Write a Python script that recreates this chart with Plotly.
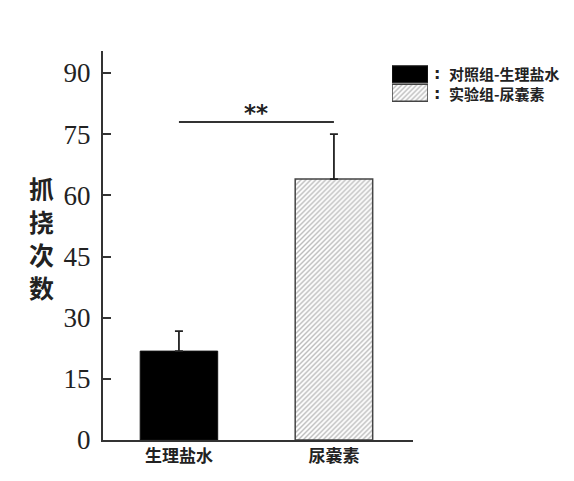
import plotly.graph_objects as go

# values
groups = ["生理盐水", "尿囊素"]
means = [21.8, 64.0]
err_up = [4.9, 11.0]
sig_y = [78, 78]
sig_label = "**"
y_ticks = [0, 15, 30, 45, 60, 75, 90]
legend_labels = ["对照组-生理盐水", "实验组-尿囊素"]
y_title = "抓挠次数"

CJK = "Noto Sans CJK SC"
INK = "#222"
HATCH = dict(shape="/", size=3.5, solidity=0.4, fgcolor="#777", bgcolor="white")

fig = go.Figure()

# black bar (saline control)
fig.add_trace(go.Bar(
    x=groups[:1], y=means[:1], width=0.5, xaxis="x", yaxis="y",
    marker=dict(color="#000", line=dict(color="#111", width=1)),
    error_y=dict(type="data", array=err_up[:1], arrayminus=[0], symmetric=False,
                 color=INK, thickness=1.8, width=4),
    showlegend=False))
# hatched bar (allantoin)
fig.add_trace(go.Bar(
    x=groups[1:], y=means[1:], width=0.5, xaxis="x", yaxis="y",
    marker=dict(color="white", line=dict(color="#444", width=1.5), pattern=HATCH),
    error_y=dict(type="data", array=err_up[1:], arrayminus=[0], symmetric=False,
                 color=INK, thickness=1.8, width=4),
    showlegend=False))

# significance bracket
fig.add_trace(go.Scatter(x=groups, y=sig_y, mode="lines", xaxis="x", yaxis="y",
                         line=dict(color="#333", width=2), showlegend=False, hoverinfo="skip"))
fig.add_annotation(x=0.5, y=sig_y[0], xref="x", yref="y", text=sig_label, showarrow=False,
                   yanchor="bottom", yshift=-6,
                   font=dict(family="DejaVu Sans", size=23, color=INK, weight="bold"))

# legend swatches drawn as bars in a tiny inset axis
fig.add_trace(go.Bar(
    x=[1], y=[0], orientation="h", width=0.92, xaxis="x2", yaxis="y2",
    marker=dict(color="#000", line=dict(color="#222", width=1)), showlegend=False, hoverinfo="skip"))
fig.add_trace(go.Bar(
    x=[1], y=[1], orientation="h", width=0.92, xaxis="x2", yaxis="y2",
    marker=dict(color="white", line=dict(color="#444", width=1.5), pattern=HATCH),
    showlegend=False, hoverinfo="skip"))

for lab, yy in zip(legend_labels, [0.9434, 0.892]):
    fig.add_annotation(x=0.7214, y=yy, xref="paper", yref="paper", text=":", showarrow=False,
                       xanchor="center", yanchor="middle",
                       font=dict(family="DejaVu Sans", size=16, color=INK, weight="bold"))
    fig.add_annotation(x=0.743, y=yy, xref="paper", yref="paper", text=lab, showarrow=False,
                       xanchor="left", yanchor="middle",
                       font=dict(family=CJK, size=15, color=INK, weight="bold"))

# vertical y-axis title, one character per annotation
for i, ch in enumerate(y_title):
    fig.add_annotation(x=-0.1318, y=0.6478 - i * 0.0848, xref="paper", yref="paper", text=ch,
                       showarrow=False, xanchor="center", yanchor="middle",
                       font=dict(family=CJK, size=25, color=INK, weight="bold"))

fig.update_layout(
    width=566, height=473,
    margin=dict(l=95, r=8, t=43, b=41),
    plot_bgcolor="white", paper_bgcolor="white",
    barmode="overlay",
    xaxis=dict(domain=[0, 0.6695], anchor="y", type="category", range=[-0.49, 1.51],
               showline=True, linecolor="#333", linewidth=2, ticks="", showgrid=False,
               tickfont=dict(family=CJK, size=17, color=INK, weight="bold")),
    yaxis=dict(domain=[0, 1], anchor="x", range=[0, 95.4], tickvals=y_ticks,
               showline=True, linecolor="#333", linewidth=2, ticks="inside", ticklen=8,
               tickwidth=2, tickcolor="#333", showgrid=False, zeroline=False,
               ticklabelstandoff=5,
               tickfont=dict(family="Liberation Serif", size=27, color=INK)),
    xaxis2=dict(domain=[0.6242, 0.7019], anchor="y2", range=[0, 1], visible=False),
    yaxis2=dict(domain=[0.8689, 0.964], anchor="x2", range=[1.5, -0.5], visible=False),
)

fig.write_html("out.html")
